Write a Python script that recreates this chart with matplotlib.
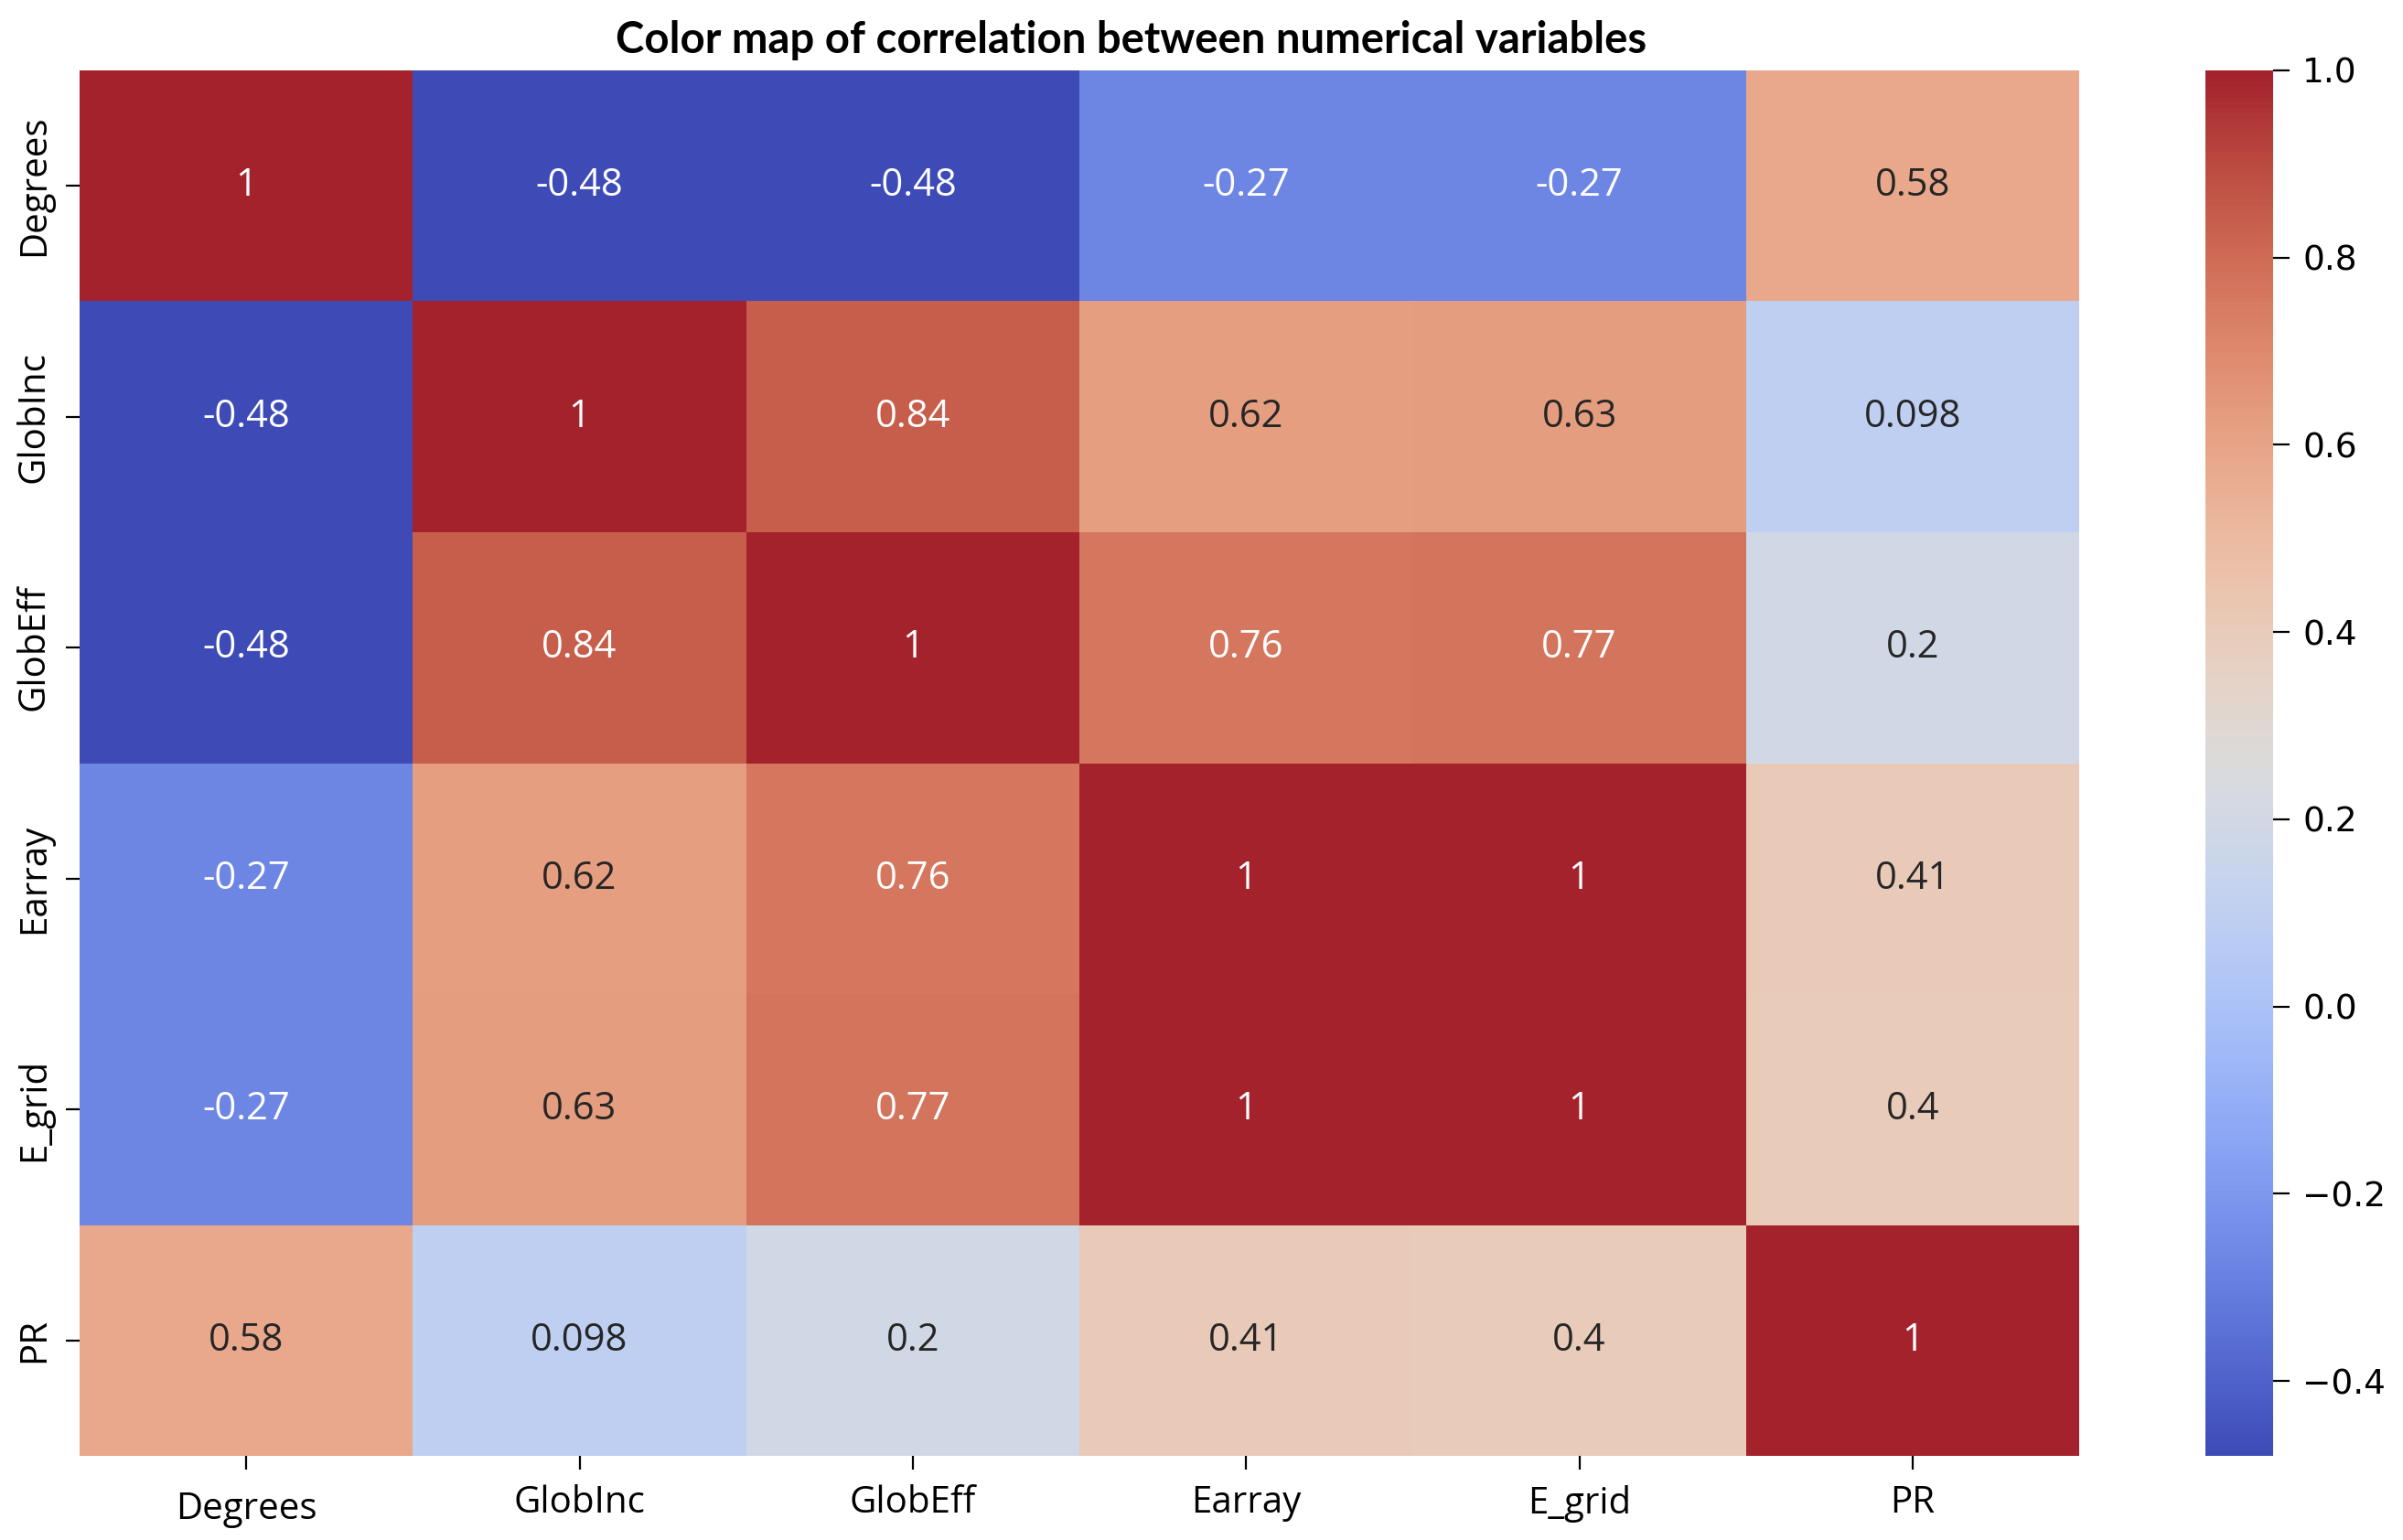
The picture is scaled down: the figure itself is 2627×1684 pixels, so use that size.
import numpy as np
import pandas as pd
import seaborn as sns
from matplotlib import pyplot as plt
from matplotlib import colormaps
from matplotlib.colors import ListedColormap
from matplotlib.transforms import ScaledTranslation

# correlation values as printed in the cells
variables = ['Degrees', 'GlobInc', 'GlobEff', 'Earray', 'E_grid', 'PR']
degrees = [1, -0.48, -0.48, -0.27, -0.27, 0.58]
glob_inc = [-0.48, 1, 0.84, 0.62, 0.63, 0.098]
glob_eff = [-0.48, 0.84, 1, 0.76, 0.77, 0.2]
earray = [-0.27, 0.62, 0.76, 1, 1, 0.41]
e_grid = [-0.27, 0.63, 0.77, 1, 1, 0.4]
pr = [0.58, 0.098, 0.2, 0.41, 0.4, 1]

cbar_ticks = [-0.4, -0.2, 0.0, 0.2, 0.4, 0.6, 0.8, 1.0]


def p3_coolwarm():
    # the reference screenshot carries coolwarm in Display P3 values,
    # so convert sRGB -> P3 to get the same muted look
    rgb = colormaps['coolwarm'](np.linspace(0, 1, 256))[:, :3]
    lin = np.where(rgb <= 0.04045, rgb / 12.92, ((rgb + 0.055) / 1.055) ** 2.4)
    m = np.array([[0.8225, 0.1774, 0.0000],
                  [0.0332, 0.9669, 0.0000],
                  [0.0171, 0.0724, 0.9108]])
    p3 = np.clip(lin @ m.T, 0, 1)
    enc = np.where(p3 <= 0.0031308, p3 * 12.92, 1.055 * p3 ** (1 / 2.4) - 0.055)
    return ListedColormap(np.clip(enc * 0.99, 0, 1))


def main():
    corr = pd.DataFrame([degrees, glob_inc, glob_eff, earray, e_grid, pr],
                        index=variables, columns=variables)

    plt.rcParams['font.family'] = ['Open Sans', 'DejaVu Sans']
    fig = plt.figure(figsize=(2627 / 200, 1684 / 200), dpi=200)
    ax = fig.add_axes([0.0331, 0.0546, 0.8322, 0.8997])
    cax = fig.add_axes([0.9178, 0.0546, 0.0282, 0.8997])

    sns.heatmap(corr, annot=True, cmap=p3_coolwarm(), ax=ax, cbar_ax=cax,
                annot_kws={'fontsize': 15, 'family': 'Open Sans'})

    ax.tick_params(axis='both', labelsize=14.5, length=5.5)
    ax.tick_params(axis='x', pad=6)
    ax.tick_params(axis='y', pad=5)
    for lab in ax.get_yticklabels():
        lab.set_rotation(90)
        lab.set_va('center')
    # the first x label sits a little lower in the reference
    first = ax.get_xticklabels()[0]
    first.set_transform(first.get_transform() +
                        ScaledTranslation(0, -2.5 / 72, fig.dpi_scale_trans))

    cax.set_yticks(cbar_ticks)
    cax.tick_params(labelsize=13.5, length=6.5, pad=5)
    for lab in cax.get_yticklabels():
        lab.set_family('DejaVu Sans')

    ax.set_title('Color map of correlation between numerical variables',
                 fontsize=17, fontweight='bold', family='Lato', pad=7, x=0.526)

    fig.savefig('out.png', dpi=200)


if __name__ == '__main__':
    main()
